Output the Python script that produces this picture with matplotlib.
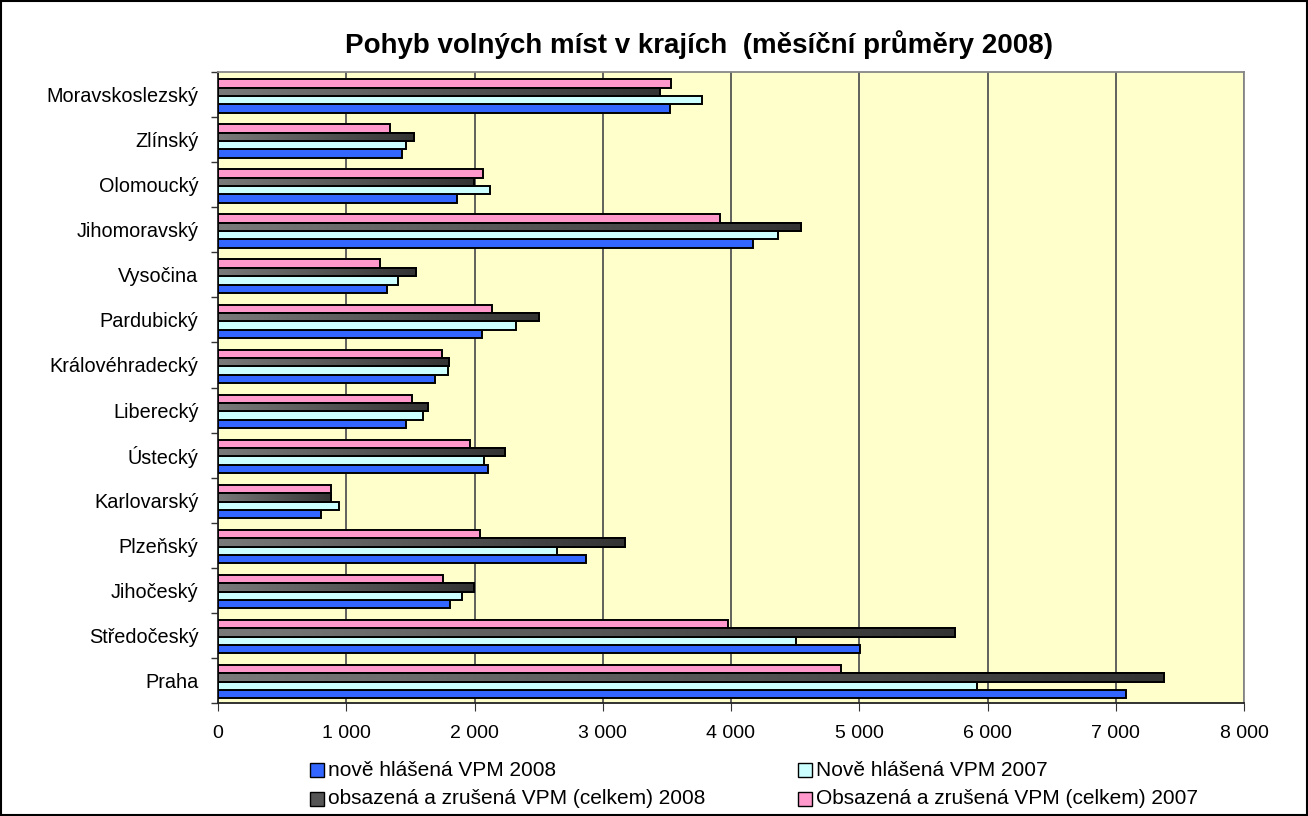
import numpy as np
import matplotlib
matplotlib.use("Agg")
import matplotlib.pyplot as plt
from matplotlib.patches import Rectangle
from matplotlib.colors import LinearSegmentedColormap
from matplotlib.ticker import FuncFormatter

plt.rcParams['font.family'] = ['Liberation Sans', 'DejaVu Sans']

regions = ["Praha", "Středočeský", "Jihočeský", "Plzeňský", "Karlovarský",
           "Ústecký", "Liberecký", "Královéhradecký", "Pardubický", "Vysočina",
           "Jihomoravský", "Olomoucký", "Zlínský", "Moravskoslezský"]

new_2008 = [7080, 5005, 1810, 2870, 800, 2105, 1465, 1690, 2055, 1320, 4170, 1865, 1435, 3525]
new_2007 = [5920, 4505, 1900, 2640, 945, 2075, 1595, 1795, 2320, 1400, 4370, 2120, 1465, 3770]
closed_2008 = [7380, 5750, 1995, 3175, 878, 2235, 1635, 1805, 2505, 1545, 4545, 1995, 1530, 3450]
closed_2007 = [4855, 3978, 1755, 2045, 884, 1965, 1515, 1750, 2138, 1260, 3918, 2065, 1343, 3535]

labels = ["nově hlášená VPM 2008", "Nově hlášená VPM 2007",
          "obsazená a zrušená VPM (celkem) 2008", "Obsazená a zrušená VPM (celkem) 2007"]
series = [new_2008, new_2007, closed_2008, closed_2007]
colors = ["#3366FF", "#CCFFFF", "#555555", "#FF99CC"]

W, H = 1308, 816
fig = plt.figure(figsize=(W / 100, H / 100), dpi=100)
ax = fig.add_axes([218 / W, 1 - 703 / H, (1244 - 218) / W, (703 - 72) / H])
ax.set_facecolor("#FFFFCC")

grey_cmap = LinearSegmentedColormap.from_list("g", ["#7a7a7a", "#333333"])
grad = np.linspace(0, 1, 256).reshape(1, -1)

y = np.arange(len(regions))
h = 0.185
for i, (vals, col) in enumerate(zip(series, colors)):
    off = (i - 1.5) * h - 0.03
    bars = ax.barh(y + off, vals, height=h, color=col, edgecolor="black",
                   linewidth=1.4, zorder=3)
    if i == 2:
        # grey gradient fill like the original
        for b in bars:
            x0, y0 = b.get_x(), b.get_y()
            w, hh = b.get_width(), b.get_height()
            im = ax.imshow(grad, cmap=grey_cmap, aspect="auto",
                           extent=(x0, x0 + w, y0, y0 + hh), zorder=3.5)
            im.set_clip_path(b)
            ax.add_patch(Rectangle((x0, y0), w, hh, fill=False, edgecolor="black",
                                   linewidth=1.4, zorder=4))

ax.set_xlim(0, 8000)
ax.set_ylim(-0.5, len(regions) - 0.5)
ax.set_xticks(np.arange(0, 8001, 1000))
ax.xaxis.set_major_formatter(FuncFormatter(lambda v, p: f"{int(v):,}".replace(",", " ")))
ax.set_yticks(y)
ax.set_yticklabels(regions)
ax.set_yticks(np.arange(-0.5, len(regions), 1), minor=True)
ax.tick_params(axis="y", which="major", length=0, labelsize=14.3, pad=14)
ax.tick_params(axis="y", which="minor", length=5, direction="out", width=1, color="#333333")
ax.tick_params(axis="x", length=6, direction="out", labelsize=14, pad=10, color="#333333")
ax.grid(axis="x", color="#555555", linewidth=1.3, zorder=1)
for s in ax.spines.values():
    s.set_color("#888888")
    s.set_linewidth(1.3)
ax.spines["left"].set_color("#222222")
ax.spines["bottom"].set_color("#222222")

fig.text(699 / W, 1 - 45 / H, "Pohyb volných míst v krajích  (měsíční průměry 2008)",
         ha="center", va="center", fontsize=20, fontweight="bold")

# legend, two columns below the plot
leg_pos = [(310, 770), (798, 770), (310, 799), (798, 799)]
for (lx, ly), lab, col in zip(leg_pos, labels, colors):
    fig.patches.append(Rectangle((lx / W, 1 - (ly + 7) / H), 14 / W, 14 / H,
                                 transform=fig.transFigure, facecolor=col,
                                 edgecolor="black", linewidth=1))
    fig.text((lx + 18) / W, 1 - ly / H, lab, ha="left", va="center", fontsize=15)

fig.patches.append(Rectangle((0.001, 0.001), 0.998, 0.998, transform=fig.transFigure,
                             fill=False, edgecolor="black", linewidth=1.5))

fig.savefig("out.png", dpi=100)
